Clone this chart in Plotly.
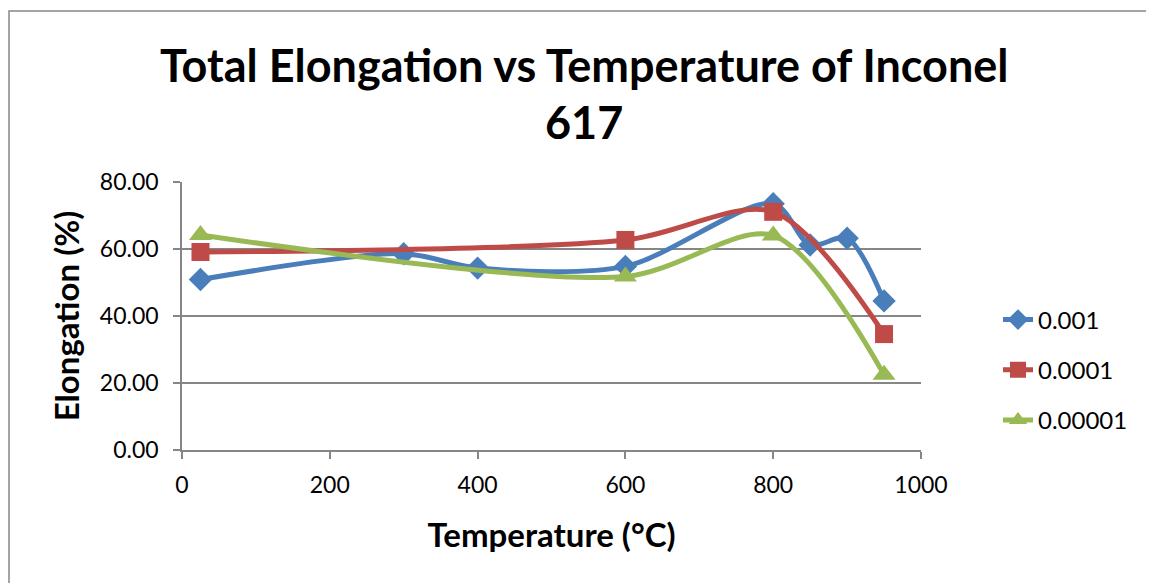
import plotly.graph_objects as go

series_names = ["0.001", "0.0001", "0.00001"]
temp_001 = [25, 300, 400, 600, 800, 850, 900, 950]
elong_001 = [50.9, 58.6, 54.3, 54.8, 73.5, 61.2, 63.2, 44.5]
temp_0001 = [25, 600, 800, 950]
elong_0001 = [59.1, 62.7, 71.1, 34.6]
temp_00001 = [25, 600, 800, 950]
elong_00001 = [64.2, 51.8, 64.0, 22.5]

title_lines = ["Total Elongation vs Temperature of Inconel", "617"]

colors = ["#4A7EBB", "#BE4B48", "#98B954"]
symbols = ["diamond", "square", "triangle-up"]
marker_sizes = [18, 18, 20]
xs = [temp_001, temp_0001, temp_00001]
ys = [elong_001, elong_0001, elong_00001]

fig = go.Figure()
for i in range(3):
    fig.add_trace(go.Scatter(
        x=xs[i], y=ys[i], name=series_names[i], mode="lines+markers",
        line=dict(color=colors[i], width=5, shape="spline", smoothing=0.85),
        marker=dict(symbol=symbols[i], size=marker_sizes[i], color=colors[i]),
        legendgroup=series_names[i],
    ))

# plot area in figure pixels (page has 8px body offset)
L, T, W, H = 174, 174, 739, 268
font_family = "Lato, 'Open Sans', sans-serif"

def px_x(p):
    return (p - L) / W

def px_y(p):
    return (T + H - p) / H

fig.update_layout(
    width=1154, height=583,
    margin=dict(l=L, r=1154 - L - W, t=T, b=583 - T - H),
    paper_bgcolor="white", plot_bgcolor="white",
    font=dict(family=font_family, color="black"),
    showlegend=True,
    legend=dict(x=px_x(990), xanchor="left", y=px_y(362), yanchor="middle",
                font=dict(size=24), tracegroupgap=16, traceorder="grouped",
                bgcolor="rgba(0,0,0,0)"),
    shapes=[dict(type="rect", xref="paper", yref="paper",
                 x0=px_x(1), x1=px_x(1170),
                 y0=px_y(600), y1=px_y(3),
                 line=dict(color="#868686", width=1.5), fillcolor="rgba(0,0,0,0)",
                 layer="below")],
    annotations=[
        dict(text="<b>" + title_lines[0] + "</b>", xref="paper", yref="paper",
             x=px_x(576), y=px_y(57), xanchor="center", yanchor="middle",
             showarrow=False, font=dict(size=45, family=font_family)),
        dict(text="<b>" + title_lines[1] + "</b>", xref="paper", yref="paper",
             x=px_x(576), y=px_y(114), xanchor="center", yanchor="middle",
             showarrow=False, font=dict(size=45, family=font_family)),
    ],
)
fig.update_xaxes(
    range=[0, 1000], tickvals=[0, 200, 400, 600, 800, 1000],
    showgrid=False, zeroline=False, showline=True, linecolor="#868686", linewidth=1.5,
    ticks="outside", ticklen=7, tickcolor="#868686", tickwidth=1.5,
    tickfont=dict(size=23), ticklabelstandoff=7,
    title=dict(text="<b>Temperature (°C)</b>", font=dict(size=33), standoff=27),
)
fig.update_yaxes(
    range=[0, 80], tickvals=[0, 20, 40, 60, 80], tickformat=".2f",
    showgrid=True, gridcolor="#868686", gridwidth=1.5, zeroline=False,
    showline=True, linecolor="#868686", linewidth=1.5,
    ticks="outside", ticklen=7, tickcolor="#868686", tickwidth=1.5,
    tickfont=dict(size=23), ticklabelstandoff=10,
    title=dict(text="<b>Elongation (%)</b>", font=dict(size=33), standoff=10),
)
fig.write_html("out.html")
